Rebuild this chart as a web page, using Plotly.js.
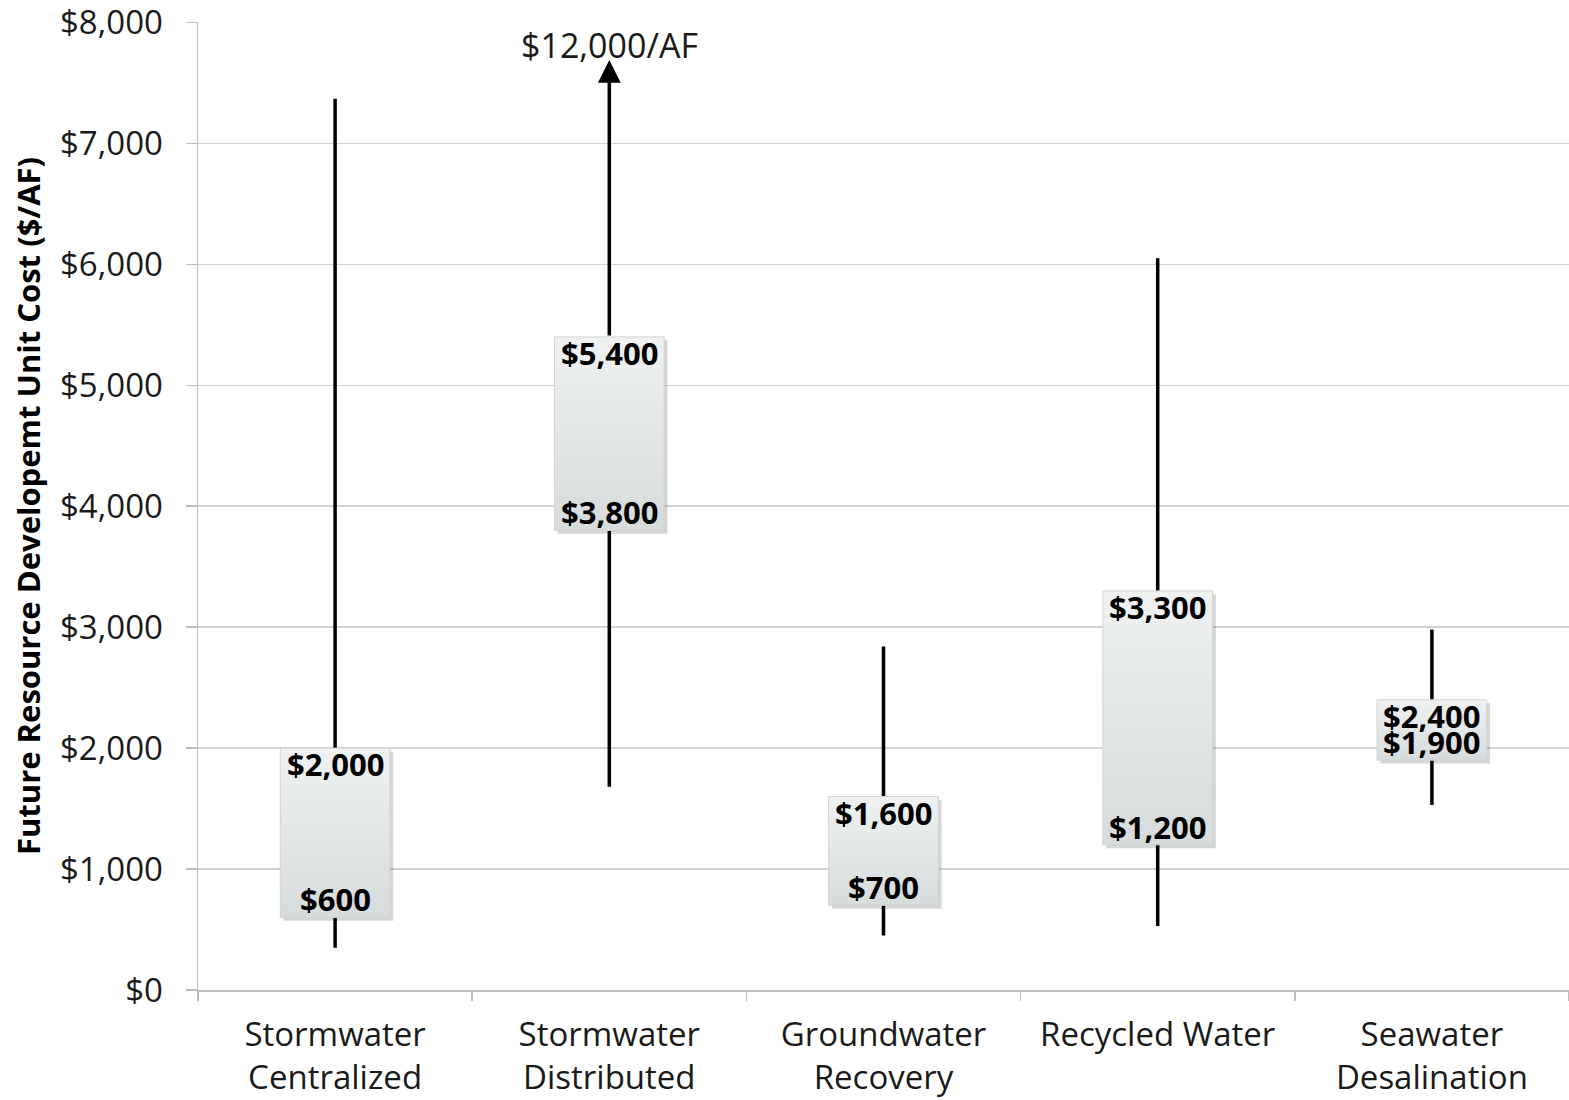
<!DOCTYPE html>
<html>
<head>
<meta charset="utf-8">
<script src="https://cdn.plot.ly/plotly-3.0.1.min.js"></script>
<style>html,body{margin:0;padding:0;background:#fff;}#chart{width:1569px;height:1100px;}</style>
</head>
<body>
<div id="chart"></div>
<script>
// ---- data ----
var categories = ['Stormwater<br>Centralized', 'Stormwater<br>Distributed', 'Groundwater<br>Recovery', 'Recycled Water', 'Seawater<br>Desalination'];
var whiskerLow  = [350, 1680, 450, 530, 1530];
var whiskerHigh = [7370, 7690, 2840, 6050, 2980];
var boxLow  = [600, 3800, 700, 1200, 1900];
var boxHigh = [2000, 5400, 1600, 3300, 2400];
var offScaleLabel = '$12,000/AF';
var offScaleIndex = 1;
var yTickVals = [0, 1000, 2000, 3000, 4000, 5000, 6000, 7000, 8000];

// ---- style ----
var FONT = 'Open Sans, Noto Sans, sans-serif';
var TXT = '#1a1a1a';
var HALF = 0.2;
var pos = categories.map(function(c, i){ return i; });

function money(v){ return '$' + v.toLocaleString('en-US'); }

var traces = [];

// whiskers
var wx = [], wy = [];
pos.forEach(function(p, i){
  wx.push(p, p, null);
  wy.push(whiskerLow[i], (i === offScaleIndex ? boxHigh[i] : whiskerHigh[i]), null);
});
traces.push({type:'scatter', mode:'lines', x:wx, y:wy, line:{color:'#000', width:3.5}, hoverinfo:'skip', showlegend:false});

// boxes (shadow + gradient fill)
pos.forEach(function(p, i){
  traces.push({
    type:'scatter', mode:'lines', fill:'toself',
    x:[p-HALF+0.012, p+HALF+0.012, p+HALF+0.012, p-HALF+0.012, p-HALF+0.012],
    y:[boxLow[i]-28, boxLow[i]-28, boxHigh[i]-28, boxHigh[i]-28, boxLow[i]-28],
    line:{width:0}, fillcolor:'rgba(0,0,0,0.16)', hoverinfo:'skip', showlegend:false
  });
  traces.push({
    type:'scatter', mode:'lines', fill:'toself',
    x:[p-HALF, p+HALF, p+HALF, p-HALF, p-HALF],
    y:[boxLow[i], boxLow[i], boxHigh[i], boxHigh[i], boxLow[i]],
    line:{width:1, color:'#d0d4d4'},
    fillgradient:{type:'vertical', colorscale:[[0,'#d6dbdb'],[1,'#f0f2f2']]},
    hoverinfo:'skip', showlegend:false
  });
});

var annotations = [];
// off-scale label (drawn first so the arrow sits on top of its white background)
annotations.push({x:pos[offScaleIndex], y:7810, xref:'x', yref:'y', text:offScaleLabel,
  showarrow:false, bgcolor:'#fff', borderpad:3, font:{family:FONT, size:34, color:TXT}});
// off-scale arrow
annotations.push({x:pos[offScaleIndex], y:whiskerHigh[offScaleIndex], xref:'x', yref:'y',
  ax:pos[offScaleIndex], ay:boxHigh[offScaleIndex], axref:'x', ayref:'y', text:'',
  showarrow:true, arrowhead:2, arrowsize:1.3, arrowwidth:3.5, arrowcolor:'#000', standoff:0});
pos.forEach(function(p, i){
  annotations.push({x:p, y:boxHigh[i], xref:'x', yref:'y', text:'<b>'+money(boxHigh[i])+'</b>',
    showarrow:false, yanchor:'middle', yshift:-16, borderpad:0, font:{family:FONT, size:31, color:'#000'}});
  annotations.push({x:p, y:boxLow[i], xref:'x', yref:'y', text:'<b>'+money(boxLow[i])+'</b>',
    showarrow:false, yanchor:'middle', yshift:18, borderpad:0, font:{family:FONT, size:31, color:'#000'}});
});

var layout = {
  width:1569, height:1100,
  margin:{l:198, r:0, t:22, b:110},
  paper_bgcolor:'#fff', plot_bgcolor:'#fff',
  showlegend:false,
  font:{family:FONT, color:TXT},
  xaxis:{range:[-0.5, 4.5], tickmode:'array', tickvals:pos, ticktext:categories,
    ticks:'', showgrid:false, zeroline:false, showline:true, linecolor:'#bdbdbd', linewidth:1.5,
    tickfont:{family:FONT, size:33, color:TXT}, ticklabelstandoff:15, ticklabeloverflow:'allow', fixedrange:true},
  xaxis2:{overlaying:'x', anchor:'y', side:'bottom', range:[-0.5, 4.5], tickmode:'array',
    tickvals:[-0.5, 0.5, 1.5, 2.5, 3.5, 4.5], ticks:'outside', ticklen:10, tickwidth:1.5, tickcolor:'#bdbdbd',
    showticklabels:false, showgrid:false, zeroline:false, showline:false},
  yaxis:{range:[0, 8004], tickmode:'array', tickvals:yTickVals, ticktext:yTickVals.map(money),
    showgrid:true, gridcolor:'#d2d2d2', gridwidth:1.5, zeroline:false,
    showline:true, linecolor:'#bdbdbd', linewidth:1.5,
    ticks:'outside', ticklen:11, tickwidth:1.5, tickcolor:'#bdbdbd', ticklabelstandoff:16,
    ticklabeloverflow:'allow',
    tickfont:{family:FONT, size:33, color:TXT},
    title:{text:'<b>Future Resource Developemt Unit Cost ($/AF)</b>', standoff:10,
      font:{family:FONT, size:31, color:'#000'}}},
  annotations:annotations
};
// dummy trace on xaxis2 so it renders
traces.push({type:'scatter', x:[null], y:[null], xaxis:'x2', yaxis:'y', hoverinfo:'skip', showlegend:false});

Plotly.newPlot('chart', traces, layout, {staticPlot:true});
</script>
</body>
</html>
